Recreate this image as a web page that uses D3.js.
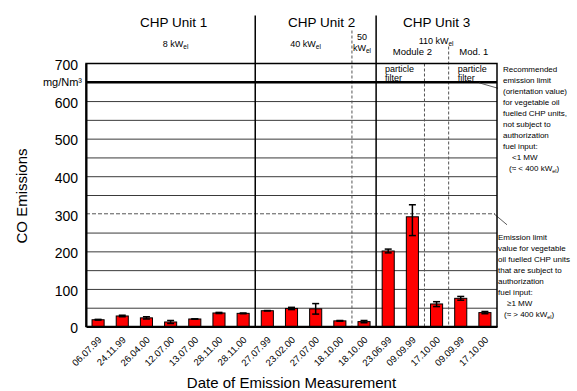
<!DOCTYPE html>
<html>
<head>
<meta charset="utf-8">
<script src="https://cdn.jsdelivr.net/npm/d3@7"></script>
<style>
  body { margin: 0; background: #fff; }
  svg { font-family: "Liberation Sans", Arial, sans-serif; }
</style>
</head>
<body>
<div id="plot"></div>
<script>
// data
var dates = ["06.07.99", "24.11.99", "26.04.00", "12.07.00", "13.07.00", "28.11.00", "28.11.00",
    "27.07.99", "23.02.00", "27.07.00", "18.10.00",
    "18.10.00",
    "23.06.99", "09.09.99", "17.10.00", "09.09.99", "17.10.00"];
var coValues = [18, 28, 23, 12, 20, 36, 35, 42, 48, 47, 15, 13, 201, 292, 60, 75, 37];
var errMinus = [1, 2, 3, 4, 0, 1.5, 1, 0.5, 3, 14, 1, 3, 5, 50, 7, 5, 3];
var errPlus = [1, 2, 3, 4, 0, 1.5, 1, 0.5, 3, 14, 1, 3, 5, 32, 6, 5, 3];
var yTicks = [0, 100, 200, 300, 400, 500, 600, 700];
var gridValues = [50, 100, 150, 200, 250, 350, 400, 450, 500, 550, 600];
var recommendedLimit = 650;
var authorizedLimit = 300;

// workspace
var svgWidth = 577, svgHeight = 391;
var margin = { top: 63.5, right: 80, bottom: 64.5, left: 86 };
var width = svgWidth - margin.left - margin.right;
var height = svgHeight - margin.top - margin.bottom;

var svg = d3.select("#plot").append("svg")
    .attr("width", svgWidth)
    .attr("height", svgHeight);

var chartGroup = svg.append("g")
    .attr("transform", `translate(${margin.left}, ${margin.top})`);

// scales
var xScale = d3.scaleBand()
    .domain(d3.range(dates.length))
    .range([0, width])
    .paddingInner(0.5)
    .paddingOuter(0.25);
var step = xScale.step();
function boundary(k) { return xScale(0) - 0.25 * step + k * step; }

var yScale = d3.scaleLinear()
    .domain([0, 700])
    .range([height, 0]);

// gridlines
chartGroup.append("g")
    .call(d3.axisLeft(yScale).tickValues(gridValues).tickSize(-width).tickFormat(""))
    .call(g => g.select(".domain").remove())
    .selectAll("line").attr("stroke", "#3a3a3a").attr("stroke-width", 1);

// dashed limit (authorization)
chartGroup.append("line")
    .attr("x1", 0).attr("x2", width - 2)
    .attr("y1", yScale(authorizedLimit)).attr("y2", yScale(authorizedLimit))
    .attr("stroke", "#555").attr("stroke-dasharray", "4,2");

// group dividers
var dividers = [
    { k: 7, top: -48, dashed: false },
    { k: 11, top: -33, dashed: true },
    { k: 12, top: -48, dashed: false },
    { k: 14, top: 0, dashed: true },
    { k: 15, top: -17, dashed: true }
];
chartGroup.selectAll(".divider")
    .data(dividers)
    .enter()
    .append("line")
    .attr("x1", d => boundary(d.k)).attr("x2", d => boundary(d.k))
    .attr("y1", d => d.top).attr("y2", height)
    .attr("stroke", d => d.dashed ? "#555" : "#000")
    .attr("stroke-width", d => d.dashed ? 1 : 1.5)
    .attr("stroke-dasharray", d => d.dashed ? "3,2" : null);

// bars
chartGroup.selectAll(".bar")
    .data(coValues)
    .enter()
    .append("rect")
    .attr("x", (d, i) => xScale(i))
    .attr("y", d => yScale(d))
    .attr("width", xScale.bandwidth())
    .attr("height", d => height - yScale(d))
    .attr("fill", "#ff0000")
    .attr("stroke", "#000")
    .attr("stroke-width", 1);

// error bars
var errGroup = chartGroup.selectAll(".err")
    .data(coValues)
    .enter()
    .append("g")
    .attr("stroke", "#000")
    .attr("stroke-width", 1.5);
errGroup.append("line")
    .attr("x1", (d, i) => xScale(i) + xScale.bandwidth() / 2)
    .attr("x2", (d, i) => xScale(i) + xScale.bandwidth() / 2)
    .attr("y1", (d, i) => yScale(d - errMinus[i]))
    .attr("y2", (d, i) => yScale(d + errPlus[i]));
errGroup.append("line")
    .attr("x1", (d, i) => xScale(i) + xScale.bandwidth() / 2 - 3.5)
    .attr("x2", (d, i) => xScale(i) + xScale.bandwidth() / 2 + 3.5)
    .attr("y1", (d, i) => yScale(d + errPlus[i]))
    .attr("y2", (d, i) => yScale(d + errPlus[i]));
errGroup.append("line")
    .attr("x1", (d, i) => xScale(i) + xScale.bandwidth() / 2 - 3.5)
    .attr("x2", (d, i) => xScale(i) + xScale.bandwidth() / 2 + 3.5)
    .attr("y1", (d, i) => yScale(d - errMinus[i]))
    .attr("y2", (d, i) => yScale(d - errMinus[i]));

// particle filter labels
[12, 15].forEach(function (k) {
    chartGroup.append("text")
        .attr("x", boundary(k) + 9).attr("y", 8)
        .attr("font-size", "9px")
        .text("particle");
    chartGroup.append("text")
        .attr("x", boundary(k) + 9).attr("y", 17.5)
        .attr("font-size", "9px")
        .text("filter");
});

// recommended limit (thick)
chartGroup.append("line")
    .attr("x1", 0).attr("x2", width)
    .attr("y1", yScale(recommendedLimit)).attr("y2", yScale(recommendedLimit))
    .attr("stroke", "#000").attr("stroke-width", 2.5);

// leader lines
chartGroup.append("line")
    .attr("x1", width - 18).attr("y1", yScale(recommendedLimit) + 0.5)
    .attr("x2", width + 1).attr("y2", yScale(recommendedLimit) + 6)
    .attr("stroke", "#333").attr("stroke-width", 0.8);
chartGroup.append("line")
    .attr("x1", width - 3).attr("y1", yScale(authorizedLimit))
    .attr("x2", width + 10).attr("y2", yScale(authorizedLimit) + 11)
    .attr("stroke", "#333").attr("stroke-width", 0.8);

// frame
chartGroup.append("rect")
    .attr("x", 0).attr("y", 0)
    .attr("width", width).attr("height", height)
    .attr("fill", "none").attr("stroke", "#000").attr("stroke-width", 1.5);

// axes
var leftAxis = d3.axisLeft(yScale).tickValues(yTicks).tickSize(0).tickPadding(8);
chartGroup.append("g")
    .call(leftAxis)
    .call(g => g.select(".domain").attr("stroke-width", 2))
    .selectAll("text")
    .attr("font-family", "Liberation Sans, Arial, sans-serif")
    .attr("font-size", "14px")
    .attr("dy", "0.45em")
    .attr("fill", "#000");

chartGroup.append("text")
    .attr("x", -4).attr("y", yScale(recommendedLimit) + 4)
    .attr("text-anchor", "end")
    .attr("font-size", "11px")
    .text("mg/Nm³");

var bottomAxis = d3.axisBottom(xScale).tickSize(0).tickFormat(i => dates[i]);
chartGroup.append("g")
    .attr("transform", `translate(0, ${height})`)
    .call(bottomAxis)
    .call(g => g.select(".domain").attr("stroke-width", 2))
    .selectAll("text")
    .attr("font-family", "Liberation Sans, Arial, sans-serif")
    .attr("font-size", "9.5px")
    .attr("fill", "#000")
    .attr("text-anchor", "end")
    .attr("dy", "0")
    .attr("transform", "translate(2, 12) rotate(-45)");

// axis titles
chartGroup.append("text")
    .attr("x", width / 2).attr("y", height + 61)
    .attr("text-anchor", "middle")
    .attr("font-size", "15px")
    .text("Date of Emission Measurement");

chartGroup.append("text")
    .attr("transform", "rotate(-90)")
    .attr("x", 0 - height / 2 - 1)
    .attr("y", 0 - margin.left + 27)
    .style("text-anchor", "middle")
    .attr("font-size", "15px")
    .text("CO Emissions");

// unit headers
var headers = [
    { text: "CHP Unit 1", x: (boundary(0) + boundary(7)) / 2 + 3 },
    { text: "CHP Unit 2", x: (boundary(7) + boundary(12)) / 2 + 6 },
    { text: "CHP Unit 3", x: (boundary(12) + boundary(17)) / 2 }
];
chartGroup.selectAll(".hdr")
    .data(headers)
    .enter()
    .append("text")
    .attr("x", d => d.x).attr("y", -36.5)
    .attr("text-anchor", "middle")
    .attr("font-size", "13.5px")
    .text(d => d.text);

function kwLabel(x, y, txt, anchor) {
    var t = chartGroup.append("text")
        .attr("x", x).attr("y", y)
        .attr("text-anchor", anchor || "middle")
        .attr("font-size", "9px");
    t.append("tspan").text(txt);
    t.append("tspan").attr("font-size", "6.5px").attr("dy", "2.5").text("el");
}
kwLabel((boundary(0) + boundary(7)) / 2 + 5, -17, "8 kW");
kwLabel((boundary(7) + boundary(11)) / 2 + 2, -17, "40 kW");
kwLabel(boundary(12) + 60, -20, "110 kW");
chartGroup.append("text")
    .attr("x", boundary(11) + 5).attr("y", -24)
    .attr("font-size", "9px").text("50");
kwLabel(boundary(11) + 1, -13, "kW", "start");

chartGroup.append("text")
    .attr("x", (boundary(12) + boundary(15)) / 2).attr("y", -8.5)
    .attr("text-anchor", "middle")
    .attr("font-size", "9.5px").text("Module 2");
chartGroup.append("text")
    .attr("x", (boundary(15) + boundary(17)) / 2 + 1).attr("y", -8.5)
    .attr("text-anchor", "middle")
    .attr("font-size", "9.5px").text("Mod. 1");

// right-hand annotations
function noteBlock(x, y, lines) {
    var t = chartGroup.append("text")
        .attr("font-size", "8px");
    lines.forEach(function (l, i) {
        var ts = t.append("tspan")
            .attr("x", x + (l.indent || 0))
            .attr("y", y + i * 11)
            .text(l.text);
        if (l.sub) {
            ts.append("tspan").attr("font-size", "5.5px").attr("dy", "2").text(l.sub);
            ts.append("tspan").attr("dy", "-2").text(")");
        }
    });
}
noteBlock(width + 6, 8.5, [
    { text: "Recommended" },
    { text: "emission limit" },
    { text: "(orientation value)" },
    { text: "for vegetable oil" },
    { text: "fuelled CHP units," },
    { text: "not subject to" },
    { text: "authorization" },
    { text: "fuel input:" },
    { text: "<1 MW", indent: 9 },
    { text: "(≈ < 400 kW", sub: "el", indent: 6 }
]);
noteBlock(width + 1, yScale(authorizedLimit) + 26, [
    { text: "Emission limit" },
    { text: "value for vegetable" },
    { text: "oil fuelled CHP units" },
    { text: "that are subject to" },
    { text: "authorization" },
    { text: "fuel input:" },
    { text: "≥1 MW", indent: 9 },
    { text: "(≈ > 400 kW", sub: "el", indent: 6 }
]);
</script>
</body>
</html>
